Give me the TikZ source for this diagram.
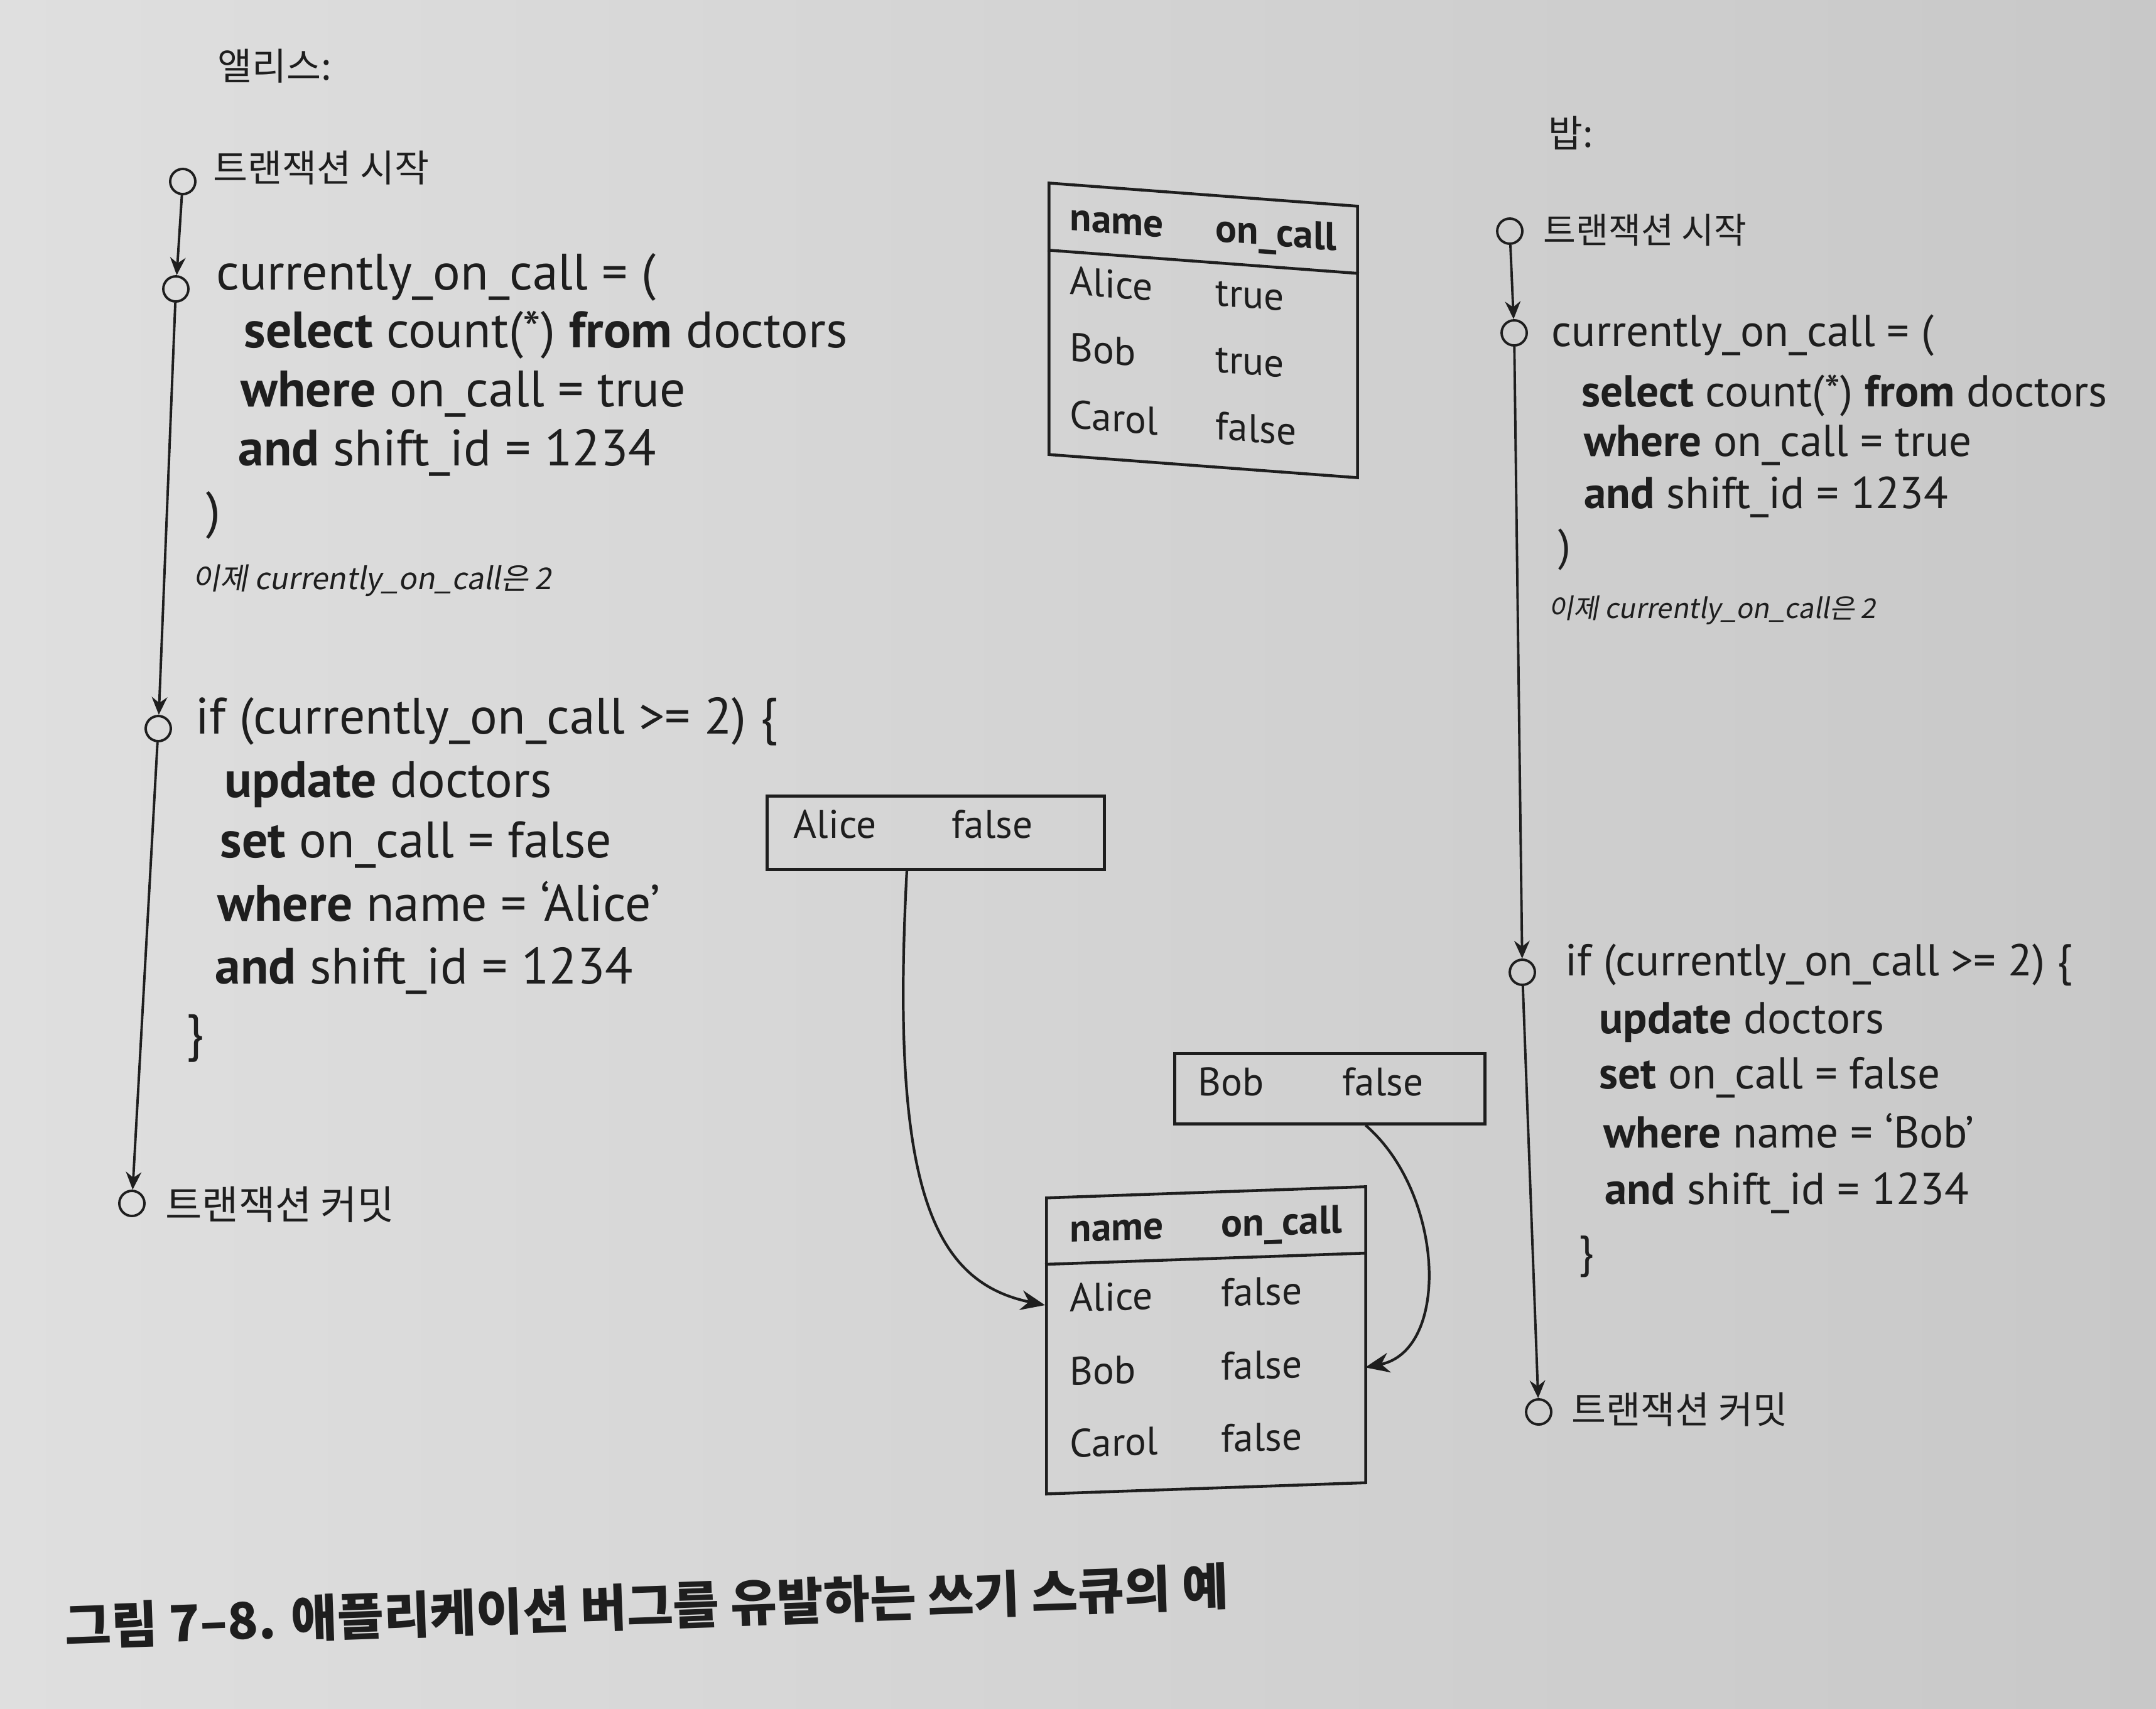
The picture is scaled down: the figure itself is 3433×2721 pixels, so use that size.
\documentclass[tikz,border=0pt]{standalone}
\usepackage{fontspec}
\setmainfont{PT Sans}
\newfontfamily\kr{Noto Sans CJK KR}
\newfontfamily\krit[FakeSlant=0.18]{Noto Sans CJK KR}
\usetikzlibrary{arrows.meta,calc}
\definecolor{ink}{HTML}{1E1E1E}
\definecolor{bgL}{HTML}{DFDFDF}
\definecolor{bgR}{HTML}{C8C8C8}
\begin{document}
\begin{tikzpicture}[x=0.01cm,y=-0.01cm,
  code/.style={anchor=west, inner sep=0pt, text height=0.7em, text depth=0pt, font=\fontsize{23.2}{27}\selectfont, text=ink},
  codeb/.style={code, font=\fontsize{20.2}{24}\selectfont},
  krlabel/.style={anchor=west, inner sep=0pt, font=\kr\fontsize{17}{21}\selectfont, text=ink},
  notetext/.style={anchor=west, inner sep=0pt, font=\krit\fontsize{13.6}{17}\selectfont, text=ink},
  cell/.style={anchor=west, inner sep=0pt, text height=0.7em, text depth=0pt, font=\fontsize{18}{22}\selectfont, text=ink},
  hcell/.style={cell, font=\bfseries\fontsize{18}{22}\selectfont},
  tick/.style={circle, draw=ink, line width=1.1pt, minimum size=0.4cm, inner sep=0pt},
  flow/.style={draw=ink, line width=1.1pt, -{Stealth[length=8pt,width=7pt]}},
  curvearrow/.style={draw=ink, line width=1.2pt, -{Stealth[length=11pt,width=9pt]}},
  tablebox/.style={draw=ink, line width=1.3pt, inner sep=0pt},
  rowspan/.style={inner sep=0pt, minimum height=1cm},
  rule/.style={draw=ink, line width=1.3pt}
]
\shade[left color=bgL, right color=bgR] (0,0) rectangle (3433,2721);
\useasboundingbox (0,0) rectangle (3433,2721);

% ---------------- Alice ----------------
\node[krlabel] (alice) at (346,105) {앨리스:};
\node[tick] (a0) at (291,289) {};
\node[tick] (a1) at (280,460) {};
\node[tick] (a2) at (252,1160) {};
\node[tick] (a3) at (210,1916) {};
\draw[flow] (a0) -- (a1);
\draw[flow] (a1) -- (a2);
\draw[flow] (a2) -- (a3);
\node[krlabel] (a-start) at (339,267) {트랜잭션 시작};
\node[krlabel, font=\kr\fontsize{18}{22}\selectfont] (a-commit) at (263,1918) {트랜잭션 커밋};

\node[code] (a-c1) at (344,449) {currently\_on\_call = (};
\node[code] (a-c2) at (388,541) {\textbf{select} count(*) \textbf{from} doctors};
\node[code] (a-c3) at (383,635) {\textbf{where} on\_call = true};
\node[code] (a-c4) at (379,729) {\textbf{and} shift\_id = 1234};
\node[code] (a-c5) at (328,828) {)};
\node[notetext] (a-note) at (306,924) {이제 currently\_on\_call은 2};
\node[code] (a-u1) at (311,1156) {if (currently\_on\_call >= 2) \{};
\node[code] (a-u2) at (357,1257) {\textbf{update} doctors};
\node[code] (a-u3) at (350,1353) {\textbf{set} on\_call = false};
\node[code] (a-u4) at (346,1454) {\textbf{where} name = ‘Alice’};
\node[code] (a-u5) at (342,1554) {\textbf{and} shift\_id = 1234};
\node[code] (a-u6) at (296,1660) {\}};

% ---------------- Bob ----------------
\node[krlabel] (bob) at (2465,212) {밥:};
\node[tick] (b0) at (2404,368) {};
\node[tick] (b1) at (2411,530) {};
\node[tick] (b2) at (2424,1548) {};
\node[tick] (b3) at (2450,2248) {};
\draw[flow] (b0) -- (b1);
\draw[flow] (b1) -- (b2);
\draw[flow] (b2) -- (b3);
\node[krlabel, font=\kr\fontsize{16}{20}\selectfont] (b-start) at (2457,366) {트랜잭션 시작};
\node[krlabel] (b-commit) at (2502,2244) {트랜잭션 커밋};

\node[codeb] (b-c1) at (2470,539) {currently\_on\_call = (};
\node[codeb] (b-c2) at (2518,635) {\textbf{select} count(*) \textbf{from} doctors};
\node[codeb] (b-c3) at (2522,714) {\textbf{where} on\_call = true};
\node[codeb] (b-c4) at (2522,797) {\textbf{and} shift\_id = 1234};
\node[codeb] (b-c5) at (2481,880) {)};
\node[notetext, font=\krit\fontsize{12.4}{16}\selectfont] (b-note) at (2465,972) {이제 currently\_on\_call은 2};
\node[codeb] (b-u1) at (2492,1541) {if (currently\_on\_call >= 2) \{};
\node[codeb] (b-u2) at (2546,1633) {\textbf{update} doctors};
\node[codeb] (b-u3) at (2546,1721) {\textbf{set} on\_call = false};
\node[codeb] (b-u4) at (2553,1815) {\textbf{where} name = ‘Bob’};
\node[codeb] (b-u5) at (2555,1905) {\textbf{and} shift\_id = 1234};
\node[codeb] (b-u6) at (2513,2005) {\}};

% ---------------- top table ----------------
\begin{scope}[shift={(1668,289)}, yslant=-0.075, transform shape]
  \node[tablebox, anchor=north west, minimum width=4.91cm, minimum height=4.32cm] (tt) at (0,0) {};
  \draw[rule] ($(tt.north west)!0.25!(tt.south west)$) -- ($(tt.north east)!0.25!(tt.south east)$);
  \node[hcell] (tt-h1) at (35,63) {name};
  \node[hcell] (tt-h2) at (267,63) {on\_call};
  \node[cell] (tt-n1) at (35,165) {Alice};
  \node[cell] (tt-v1) at (267,165) {true};
  \node[cell] (tt-n2) at (35,271) {Bob};
  \node[cell] (tt-v2) at (267,271) {true};
  \node[cell] (tt-n3) at (35,378) {Carol};
  \node[cell] (tt-v3) at (267,378) {false};
\end{scope}

% ---------------- write boxes ----------------
\node[tablebox, anchor=north west, minimum width=5.37cm, minimum height=1.17cm] (af) at (1219,1265) {};
\node[cell] (af-n) at (1263,1322) {Alice};
\node[cell] (af-v) at (1515,1322) {false};
\node[tablebox, anchor=north west, minimum width=4.94cm, minimum height=1.12cm] (bf) at (1868,1675) {};
\node[cell] (bf-n) at (1907,1732) {Bob};
\node[cell] (bf-v) at (2137,1732) {false};

% ---------------- bottom table ----------------
\begin{scope}[shift={(1664,1905)}, yslant=0.035, transform shape]
  \node[tablebox, anchor=north west, minimum width=5.08cm, minimum height=4.71cm] (bt) at (0,0) {};
  \draw[rule] ($(bt.north west)!0.227!(bt.south west)$) -- ($(bt.north east)!0.227!(bt.south east)$);
  \node[rowspan, anchor=west, minimum width=5.08cm] (bt-r1) at (0,173) {};
  \node[rowspan, anchor=west, minimum width=5.08cm] (bt-r2) at (0,290) {};
  \node[hcell] (bt-h1) at (39,62) {name};
  \node[hcell] (bt-h2) at (280,62) {on\_call};
  \node[cell] (bt-n1) at (39,173) {Alice};
  \node[cell] (bt-v1) at (280,173) {false};
  \node[cell] (bt-n2) at (39,290) {Bob};
  \node[cell] (bt-v2) at (280,290) {false};
  \node[cell] (bt-n3) at (39,405) {Carol};
  \node[cell] (bt-v3) at (280,405) {false};
\end{scope}

\draw[curvearrow] ([xshift=-0.46cm]af.south) .. controls (1418,1880) and (1480,2040) .. (bt-r1.west);
\draw[curvearrow] ([xshift=0.57cm]bf.south) .. controls (2300,1900) and (2310,2150) .. (bt-r2.east);

% ---------------- caption ----------------
\node[anchor=west, inner sep=0pt, rotate=2, text=ink, font=\kr\bfseries\fontsize{22.8}{27}\selectfont] (caption) at (103,2590) {그림 7–8. 애플리케이션 버그를 유발하는 쓰기 스큐의 예};
\end{tikzpicture}
\end{document}
